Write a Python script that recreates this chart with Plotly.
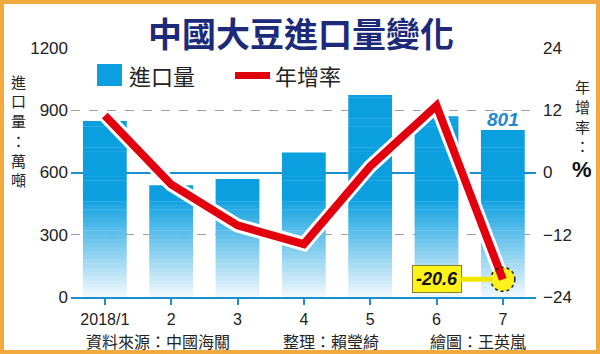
import plotly.graph_objects as go
import numpy as np

# ---------------- data ----------------
months = ["2018/1", "2", "3", "4", "5", "6", "7"]
imports = [848, 539, 569, 696, 973, 871, 801]          # 萬噸
growth = [11.0, -2.3, -10.2, -13.8, 1.2, 12.9, -20.6]  # %
left_ticks = [0, 300, 600, 900, 1200]
right_ticks = [-24, -12, 0, 12, 24]

# ---------------- geometry helpers ----------------
W, H = 600, 354
L, R, T, B = 71, 64, 48, 57
PW, PH = W - L - R, H - T - B


def px(x):
    return (x - L) / PW


def py(y):
    return (H - B - y) / PH


BLUE = np.array([11, 159, 224])
PALE = np.array([242, 249, 253])
RED = "#e2000f"
CJK = "Noto Sans CJK TC"
NUM = "Liberation Sans, Arial, sans-serif"
last = len(months) - 1

fig = go.Figure()

# ---------------- gradient bars (bands with a small overlap) ----------------
seg = 20
tops = np.array(imports, dtype=float)
for lo in np.arange(0, 1200, seg):
    h = np.minimum(np.clip(tops - lo, 0, seg + 2), np.maximum(tops - lo, 0))
    if h.max() <= 0:
        continue
    mid = lo + seg / 2
    t = min(1.0, max(0.0, mid / 480.0)) ** 1.0
    c = PALE + (BLUE - PALE) * t
    col = "rgb(%d,%d,%d)" % tuple(c.astype(int))
    fig.add_trace(go.Bar(
        x=months, y=h, base=[float(lo)] * len(months), width=0.66,
        marker=dict(color=col, line_width=0),
        showlegend=False, hoverinfo="skip", yaxis="y",
    ))

# ---------------- growth line ----------------
fig.add_trace(go.Scatter(
    x=months, y=growth, yaxis="y2", mode="lines",
    line=dict(color="white", width=14), showlegend=False, hoverinfo="skip",
))
fig.add_trace(go.Scatter(
    x=[months[-1]], y=[growth[-1]], yaxis="y2", mode="markers",
    marker=dict(size=24, color="#fff21a", line=dict(width=0)),
    showlegend=False, hoverinfo="skip",
))
fig.add_trace(go.Scatter(
    x=months, y=growth, yaxis="y2", mode="lines",
    line=dict(color=RED, width=8), showlegend=False, hoverinfo="skip",
))

# ---------------- annotations ----------------
ann = []
ann.append(dict(
    x=last, y=imports[-1], xref="x", yref="y", yanchor="bottom",
    text="<b><i>%d</i></b>" % imports[-1], showarrow=False, yshift=-1,
    font=dict(family=NUM, size=19, color="#1e88d0"),
))
ann.append(dict(
    x=last, y=growth[-1], xref="x", yref="y2",
    text="<b><i>%.1f</i></b>" % growth[-1],
    showarrow=True, arrowhead=0, arrowwidth=5, arrowcolor="#f2e600",
    ax=-66, ay=0, standoff=11,
    bgcolor="#fff21a", bordercolor="#8a7f2a", borderwidth=1, borderpad=3,
    font=dict(family=NUM, size=18, color="#111111"),
))
# title
ann.append(dict(
    x=px(301), y=py(33), xref="paper", yref="paper", showarrow=False,
    text="<b>中國大豆進口量變化</b>",
    font=dict(family=CJK, size=34, color="#1d2a7a"),
    xanchor="center", yanchor="middle",
))
# vertical axis titles, one character each
for i, ch in enumerate("進口量：萬噸"):
    ann.append(dict(
        x=px(18), y=py(81 + 19.8 * i), xref="paper", yref="paper", showarrow=False,
        text=ch, font=dict(family=CJK, size=15, color="#222222"),
        xanchor="center", yanchor="middle",
    ))
for i, ch in enumerate("年增率："):
    ann.append(dict(
        x=px(582), y=py(87 + 19.5 * i), xref="paper", yref="paper", showarrow=False,
        text=ch, font=dict(family=CJK, size=15, color="#222222"),
        xanchor="center", yanchor="middle",
    ))
ann.append(dict(
    x=px(582), y=py(169), xref="paper", yref="paper", showarrow=False,
    text="<b>%</b>", font=dict(family=NUM, size=22, color="#111111"),
    xanchor="center", yanchor="middle",
))
# legend texts
ann.append(dict(
    x=px(127), y=py(75), xref="paper", yref="paper", showarrow=False,
    text="進口量", font=dict(family=CJK, size=22, color="#222222"),
    xanchor="left", yanchor="middle",
))
ann.append(dict(
    x=px(273), y=py(75), xref="paper", yref="paper", showarrow=False,
    text="年增率", font=dict(family=CJK, size=22, color="#222222"),
    xanchor="left", yanchor="middle",
))
# footer
for txt, xc in [("資料來源：中國海關", 158), ("整理：賴瑩綺", 331), ("繪圖：王英嵐", 478)]:
    ann.append(dict(
        x=px(xc), y=py(341), xref="paper", yref="paper", showarrow=False,
        text=txt, font=dict(family=CJK, size=16, color="#222222"),
        xanchor="center", yanchor="middle",
    ))

# ---------------- shapes (legend swatches, dashed ring, border) ----------------
shapes = [
    dict(type="rect", xref="paper", yref="paper",
         x0=px(97), x1=px(122), y0=py(64), y1=py(86),
         fillcolor="#0b9fe0", line_width=0),
    dict(type="rect", xref="paper", yref="paper",
         x0=px(235), x1=px(270), y0=py(72), y1=py(79),
         fillcolor=RED, line_width=0),
    dict(type="circle", xref="x", yref="y2",
         xsizemode="pixel", ysizemode="pixel",
         xanchor=last, yanchor=growth[-1],
         x0=-12, x1=12, y0=-12, y1=12,
         line=dict(color="#222222", width=1.5, dash="dot"),
         fillcolor="rgba(0,0,0,0)", layer="above"),
    dict(type="rect", xref="paper", yref="paper",
         x0=px(2), x1=px(598), y0=py(2), y1=py(352),
         line=dict(color="#f2a93e", width=4), fillcolor="rgba(0,0,0,0)",
         layer="above"),
]

fig.update_layout(
    width=W, height=H,
    margin=dict(l=L, r=R, t=T, b=B, pad=0),
    paper_bgcolor="white", plot_bgcolor="white",
    barmode="overlay", showlegend=False,
    annotations=ann, shapes=shapes,
    xaxis=dict(
        type="category", range=[-0.51, 6.5], tickvals=months, ticktext=months,
        showgrid=False, showline=True, linecolor="#1a8fd0", linewidth=2,
        ticks="outside", tickcolor="#1a8fd0", ticklen=6, tickwidth=2,
        tickfont=dict(family=NUM, size=16, color="#222222"),
        ticklabelstandoff=1,
        zeroline=False, fixedrange=True,
    ),
    yaxis=dict(
        range=[0, 1200], tickvals=left_ticks, showgrid=True,
        gridcolor="#a89a9a", griddash="dash", gridwidth=1,
        zeroline=False, showline=False, ticks="",
        tickfont=dict(family=NUM, size=17, color="#222222"),
        ticklabelstandoff=2,
    ),
    yaxis2=dict(
        range=[-24, 24], tickvals=right_ticks, overlaying="y", side="right",
        showgrid=False, zeroline=True, zerolinecolor="#1a8fd0", zerolinewidth=2,
        showline=False, ticks="",
        tickfont=dict(family=NUM, size=17, color="#222222"),
        ticklabelstandoff=6,
    ),
)

fig.write_html("out.html")
